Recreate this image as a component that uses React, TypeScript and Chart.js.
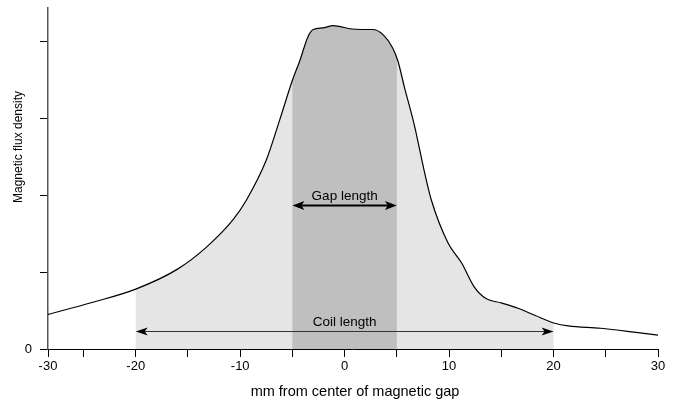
import React, { useEffect, useRef } from "react";
import { Chart, registerables } from "chart.js";

Chart.register(...registerables);

// ---- data ----
const positionsMm = [
  -28.4, -24.2, -20, -16, -13.2, -10.7, -9.4, -7.5, -6.2, -5.0, -4.3, -3.5, -3.0,
  -2.1, -1.1, -0.5, 0.5, 1.7, 2.7, 3.7, 4.6, 5.1, 5.7, 6.7, 7.6, 8.3, 9.9, 11.2,
  12.4, 13.5, 15.0, 16.6, 18.2, 20.1, 21.4, 24.5, 27.7, 30,
];
const fluxDensity = [
  0.45, 0.605, 0.78, 1.04, 1.33, 1.68, 1.94, 2.46, 2.99, 3.5, 3.75, 4.07, 4.16,
  4.18, 4.21, 4.2, 4.17, 4.16, 4.16, 4.09, 3.92, 3.75, 3.42, 2.9, 2.33, 1.94,
  1.38, 1.12, 0.81, 0.66, 0.6, 0.53, 0.44, 0.335, 0.3, 0.27, 0.22, 0.18,
];
const xTickValues = [-28.4, -25, -20, -15, -10, -5, 0, 5, 10, 15, 20, 25, 30];
const xTickLabels = ["-30", "", "-20", "", "-10", "", "0", "", "10", "", "20", "", "30"];
const yTickValues = [0, 1, 2, 3, 4];
const yTickLabels = ["0", "", "", "", ""];
const coilRange = [-20, 20];
const gapRange = [-5, 5];
const arrowLabels = ["Gap length", "Coil length"];
const arrowFrom = [-5, -20];
const arrowTo = [5, 20];
const arrowLevel = [1.877, 0.228];
const xTitle = "mm from center of magnetic gap";
const yTitle = "Magnetic flux density";

const FONT = '"Liberation Sans", Arial, Helvetica, sans-serif';

function drawArrow(ctx: CanvasRenderingContext2D, x1: number, x2: number, y: number, lineColor: string, lw: number, headLen: number, headW: number) {
  ctx.save();
  ctx.strokeStyle = lineColor;
  ctx.lineWidth = lw;
  ctx.beginPath();
  ctx.moveTo(x1 + headLen * 0.6, y);
  ctx.lineTo(x2 - headLen * 0.6, y);
  ctx.stroke();
  ctx.fillStyle = "#000";
  ctx.beginPath();
  ctx.moveTo(x1, y);
  ctx.lineTo(x1 + headLen, y - headW / 2);
  ctx.lineTo(x1 + headLen * 0.75, y);
  ctx.lineTo(x1 + headLen, y + headW / 2);
  ctx.closePath();
  ctx.fill();
  ctx.beginPath();
  ctx.moveTo(x2, y);
  ctx.lineTo(x2 - headLen, y - headW / 2);
  ctx.lineTo(x2 - headLen * 0.75, y);
  ctx.lineTo(x2 - headLen, y + headW / 2);
  ctx.closePath();
  ctx.fill();
  ctx.restore();
}

const shadePlugin = {
  id: "shadeRegions",
  beforeDatasetsDraw(chart: any) {
    const meta = chart.getDatasetMeta(0);
    const line = meta.dataset;
    if (!line) return;
    const { ctx, chartArea } = chart;
    const xs = chart.scales.x;
    const ys = chart.scales.y;
    line.updateControlPoints(chartArea, "x");
    const pts = meta.data;
    const base = ys.getPixelForValue(0);
    const fills: [number[], string][] = [
      [coilRange, "#e5e5e5"],
      [gapRange, "#bfbfbf"],
    ];
    for (const [range, color] of fills) {
      ctx.save();
      const l = xs.getPixelForValue(range[0]);
      const r = xs.getPixelForValue(range[1]);
      ctx.beginPath();
      ctx.rect(l, chartArea.top, r - l, chartArea.bottom - chartArea.top);
      ctx.clip();
      ctx.beginPath();
      line.path(ctx);
      ctx.lineTo(pts[pts.length - 1].x, base);
      ctx.lineTo(pts[0].x, base);
      ctx.closePath();
      ctx.fillStyle = color;
      ctx.fill();
      ctx.restore();
    }
  },
  afterDatasetsDraw(chart: any) {
    const { ctx } = chart;
    const xs = chart.scales.x;
    const ys = chart.scales.y;
    arrowLabels.forEach((label, i) => {
      const x1 = xs.getPixelForValue(arrowFrom[i]);
      const x2 = xs.getPixelForValue(arrowTo[i]);
      const y = Math.round(ys.getPixelForValue(arrowLevel[i])) + 0.5;
      if (i === 0) drawArrow(ctx, x1, x2, y, "#000", 2, 12, 9);
      else drawArrow(ctx, x1, x2, y, "#333", 1, 12, 8);
      ctx.save();
      ctx.fillStyle = "#000";
      ctx.font = `13.5px ${FONT}`;
      ctx.textAlign = "center";
      ctx.textBaseline = "alphabetic";
      ctx.fillText(label, (x1 + x2) / 2, y - 6);
      ctx.restore();
    });
  },
  afterDraw(chart: any) {
    const { ctx, chartArea } = chart;
    ctx.save();
    ctx.fillStyle = "#000";
    ctx.font = `14.5px ${FONT}`;
    ctx.textAlign = "center";
    ctx.textBaseline = "middle";
    ctx.fillText(xTitle, (chartArea.left + chartArea.right) / 2 + 2, 392);
    ctx.translate(19, 147);
    ctx.rotate(-Math.PI / 2);
    ctx.font = `12px ${FONT}`;
    ctx.fillText(yTitle, 0, 0);
    ctx.restore();
  },
};

export default function App() {
  const ref = useRef<HTMLCanvasElement>(null);
  useEffect(() => {
    if (!ref.current) return;
    const chart = new Chart(ref.current, {
      type: "line",
      data: {
        datasets: [
          {
            data: positionsMm.map((x, i) => ({ x, y: fluxDensity[i] })),
            borderColor: "#000",
            borderWidth: 1.2,
            pointRadius: 0,
            fill: false,
            cubicInterpolationMode: "monotone",
          },
        ],
      },
      options: {
        animation: false,
        responsive: false,
        layout: { padding: { left: 0, top: 8, right: 17, bottom: 0 } },
        plugins: { legend: { display: false }, tooltip: { enabled: false } },
        scales: {
          x: {
            type: "linear",
            min: xTickValues[0],
            max: xTickValues[xTickValues.length - 1],
            afterBuildTicks: (s: any) => {
              s.ticks = xTickValues.map((v) => ({ value: v }));
            },
            afterFit: (s: any) => {
              s.height = 58;
              s.paddingLeft = 0;
              s.paddingRight = 0;
            },
            grid: { display: true, drawOnChartArea: false, drawTicks: true, tickLength: 8, color: "#000", tickWidth: 1 },
            border: { display: true, color: "#000", width: 1 },
            ticks: {
              autoSkip: false,
              maxRotation: 0,
              padding: 2,
              color: "#000",
              font: { family: FONT, size: 13 },
              callback: (_v: any, i: number) => xTickLabels[i],
            },
          },
          y: {
            type: "linear",
            min: 0,
            max: 4.44,
            afterBuildTicks: (s: any) => {
              s.ticks = yTickValues.map((v) => ({ value: v }));
            },
            afterFit: (s: any) => {
              s.width = 48;
              s.paddingTop = 0;
              s.paddingBottom = 0;
            },
            grid: { display: true, drawOnChartArea: false, drawTicks: true, tickLength: 8, color: "#000", tickWidth: 1 },
            border: { display: true, color: "#555", width: 1.5 },
            ticks: {
              autoSkip: false,
              padding: 8,
              color: "#000",
              font: { family: FONT, size: 13 },
              callback: (_v: any, i: number) => yTickLabels[i],
            },
          },
        },
      },
      plugins: [shadePlugin],
    } as any);
    return () => chart.destroy();
  }, []);
  return (
    <div style={{ position: "fixed", left: 0, top: 0, width: 675, height: 407, background: "#fff" }}>
      <canvas ref={ref} width={675} height={407} style={{ display: "block" }} />
    </div>
  );
}
